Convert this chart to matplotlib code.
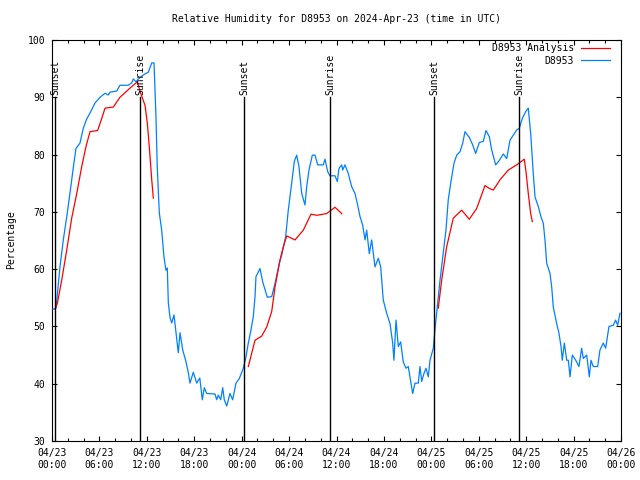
import matplotlib
matplotlib.use("Agg")
import matplotlib.pyplot as plt
import numpy as np

# hours since 2024-04-23 00:00 UTC
blue_hours = [0.13, 0.51, 1.01, 1.43, 1.86, 2.28, 2.70, 3.04, 3.54, 3.96, 4.39, 5.02, 5.44, 6.07,
              6.71, 7.12, 7.34, 8.19, 8.60, 9.65, 10.08, 10.29, 10.63, 10.92, 11.55, 12.19, 12.62,
              12.91, 13.16, 13.32, 13.58, 13.88, 14.17, 14.42, 14.59, 14.72, 14.93, 15.15, 15.44,
              15.69, 15.98, 16.20, 16.54, 16.96, 17.25, 17.46, 17.88, 18.31, 18.70, 19.02, 19.27,
              19.57, 20.63, 20.84, 21.04, 21.35, 21.60, 21.80, 22.11, 22.52, 22.86, 23.28, 23.70,
              24.21, 24.55, 24.84, 25.14, 25.47, 25.69, 25.81, 26.32, 26.66, 27.24, 27.80, 28.22,
              28.76, 29.07, 29.57, 29.90, 30.33, 30.66, 30.96, 31.25, 31.60, 32.01, 32.23, 32.52,
              32.94, 33.28, 33.62, 34.33, 34.54, 34.89, 35.18, 35.81, 36.10, 36.32, 36.66, 36.78,
              37.07, 37.49, 37.92, 38.34, 38.63, 38.97, 39.31, 39.61, 39.82, 40.15, 40.45, 40.87,
              41.29, 41.59, 41.92, 42.35, 42.77, 43.11, 43.27, 43.53, 43.82, 44.12, 44.45, 44.79,
              45.08, 45.39, 45.64, 45.93, 46.35, 46.56, 46.78, 47.07, 47.32, 47.62, 47.83, 48.25,
              48.50, 48.75, 49.10, 49.51, 49.85, 50.14, 50.45, 50.87, 51.21, 51.63, 51.97, 52.26,
              52.80, 53.23, 53.61, 54.07, 54.57, 54.92, 55.34, 55.64, 56.14, 56.56, 57.11, 57.54,
              57.95, 58.37, 58.80, 59.13, 59.51, 59.94, 60.27, 60.57, 60.90, 61.12, 61.54, 61.88,
              62.17, 62.38, 62.60, 63.01, 63.23, 63.43, 63.86, 64.15, 64.41, 64.57, 64.83, 65.13,
              65.33, 65.55, 65.84, 66.27, 66.68, 67.02, 67.23, 67.66, 67.99, 68.20, 68.49, 69.05,
              69.34, 69.76, 70.06, 70.48, 71.02, 71.32, 71.58, 71.87]
blue_values = [53.0, 53.2, 60.4, 65.1, 69.1, 73.3, 77.8, 81.1, 82.0, 84.6, 86.2, 87.8, 89.0, 90.0,
               90.7, 90.4, 90.9, 91.1, 92.1, 92.1, 92.5, 93.2, 92.7, 93.2, 93.9, 94.4, 96.0,
               96.0, 86.4, 77.8, 69.8, 66.8, 62.1, 59.8, 60.2, 54.1, 51.6, 50.6, 52.0,
               48.9, 45.4, 48.9, 45.9, 43.8, 41.9, 40.1, 42.0, 40.1, 41.0, 37.2, 39.3,
               38.3, 38.2, 37.2, 38.0, 37.2, 39.3, 37.2, 36.1, 38.3, 37.2, 40.1, 40.9,
               42.7, 44.7, 47.1, 49.1, 51.7, 55.2, 58.7, 60.1, 57.8, 55.1, 55.2, 57.5,
               61.0, 62.5, 65.7, 70.3, 75.0, 78.8, 79.9, 77.9, 73.2, 71.2, 74.4, 77.3,
               79.9, 79.9, 78.2, 78.2, 79.2, 77.0, 76.3, 76.3, 75.3, 77.6, 78.2, 77.3,
               78.2, 76.7, 74.4, 73.2, 71.5, 69.2, 67.7, 65.1, 66.8, 62.7, 65.1, 60.4,
               61.9, 60.4, 54.6, 52.3, 50.5, 47.1, 44.1, 51.1, 46.5, 47.3, 43.8, 42.7,
               43.0, 40.4, 38.3, 40.1, 40.1, 43.0, 40.4, 41.8, 42.7, 41.2, 44.1, 46.2,
               50.0, 53.4, 58.1, 62.8, 66.8, 72.1, 75.0, 78.5, 79.9, 80.5, 82.0, 84.0,
               83.0, 81.7, 80.2, 82.1, 82.3, 84.2, 83.1, 80.8, 78.2, 78.9, 80.1, 79.3,
               82.5, 83.4, 84.3, 84.6, 86.3, 87.5, 88.1, 83.7, 76.7, 72.6, 70.9, 69.1,
               68.0, 65.1, 61.0, 59.3, 56.9, 53.4, 50.5, 48.8, 46.5, 44.1, 47.1, 44.1,
               44.1, 41.2, 45.0, 44.1, 43.0, 46.2, 44.4, 45.0, 41.2, 44.1, 43.0, 43.0,
               45.9, 47.1, 46.2, 50.0, 50.2, 51.1, 50.2, 52.3]

red_hours = [0.38, 0.67, 1.23, 1.86, 2.49, 3.13, 3.76, 4.30, 4.81, 5.78, 6.29, 6.71, 7.76, 8.60,
             9.24, 9.87, 10.79, 11.22, 11.77, 12.06, 12.31, 12.62, 12.82,
             18.0,
             24.84, 25.69, 26.53, 27.17, 27.80, 28.22, 28.85, 29.27, 29.70, 30.75, 31.80, 32.77,
             33.49, 34.76, 35.81, 36.66,
             42.0,
             48.88, 49.31, 49.94, 50.78, 51.84, 52.80, 53.74, 54.79, 55.33, 55.84, 56.69, 57.74,
             58.80, 59.76, 59.98, 60.27, 60.57, 60.78]
red_values = [53.0, 54.0, 58.1, 63.3, 68.9, 73.2, 77.9, 81.4, 84.0, 84.2, 86.3, 88.1, 88.3, 90.0,
              90.8, 91.6, 92.7, 90.7, 88.6, 85.5, 81.4, 75.6, 72.4,
              np.nan,
              43.0, 47.6, 48.3, 49.9, 52.6, 56.9, 61.6, 63.9, 65.8, 65.1, 66.8, 69.6,
              69.4, 69.7, 70.8, 69.7,
              np.nan,
              53.2, 58.1, 63.9, 68.9, 70.3, 68.7, 70.6, 74.6, 74.1, 73.8, 75.6, 77.3,
              78.2, 79.2, 77.0, 73.2, 69.7, 68.3]

sun_hours = [0.40, 11.13, 24.34, 35.22, 48.38, 59.13]
sun_labels = ["Sunset", "Sunrise", "Sunset", "Sunrise", "Sunset", "Sunrise"]

xtick_hours = list(range(0, 73, 6))
xtick_labels = ["04/23\n00:00", "04/23\n06:00", "04/23\n12:00", "04/23\n18:00",
                "04/24\n00:00", "04/24\n06:00", "04/24\n12:00", "04/24\n18:00",
                "04/25\n00:00", "04/25\n06:00", "04/25\n12:00", "04/25\n18:00",
                "04/26\n00:00"]
yticks = [30, 40, 50, 60, 70, 80, 90, 100]

FONT = "DejaVu Sans Mono"
FS = 7
plt.rcParams['font.family'] = FONT
plt.rcParams['font.size'] = FS

fig = plt.figure(figsize=(6.4, 4.8), dpi=100)
ax = fig.add_axes([52/640, 39/480, 569/640, 401/480])

ax.plot(blue_hours, blue_values, color='#0080ff', lw=0.9, label='D8953', zorder=3)
ax.plot(red_hours, red_values, color='#ff0000', lw=0.9, label='D8953 Analysis', zorder=4)

for h, lab in zip(sun_hours, sun_labels):
    ax.plot([h, h], [30, 90], color='black', lw=1.0, zorder=5)
    ax.annotate(lab, xy=(h, 90), xytext=(0, 2), textcoords='offset points',
                rotation=90, ha='center', va='bottom', fontsize=FS, zorder=6)

ax.set_xlim(0, 72)
ax.set_ylim(30, 100)
ax.set_xticks(xtick_hours)
ax.set_xticklabels(xtick_labels)
ax.set_xticks(list(range(0, 73, 2)), minor=True)
ax.set_yticks(yticks)
ax.tick_params(which='both', direction='in', top=True, right=True, width=0.8)
ax.tick_params(which='major', length=3.6, pad=5)
ax.tick_params(which='minor', length=2.2)
for s in ax.spines.values():
    s.set_linewidth(0.8)

handles, labels = ax.get_legend_handles_labels()
order = [1, 0]
ax.legend([handles[i] for i in order], [labels[i] for i in order],
          loc='upper right', bbox_to_anchor=(0.9807, 0.992), frameon=False,
          markerfirst=False, handlelength=3.0, handletextpad=0.7,
          labelspacing=0.25, borderpad=0, borderaxespad=0, fontsize=FS)

fig.text(336/640, 1 - 19/480, "Relative Humidity for D8953 on 2024-Apr-23 (time in UTC)",
         ha='center', va='center', fontsize=FS)
fig.text(11/640, 0.5, "Percentage", rotation=90, ha='center', va='center', fontsize=FS)

fig.savefig("out.png", dpi=100)
